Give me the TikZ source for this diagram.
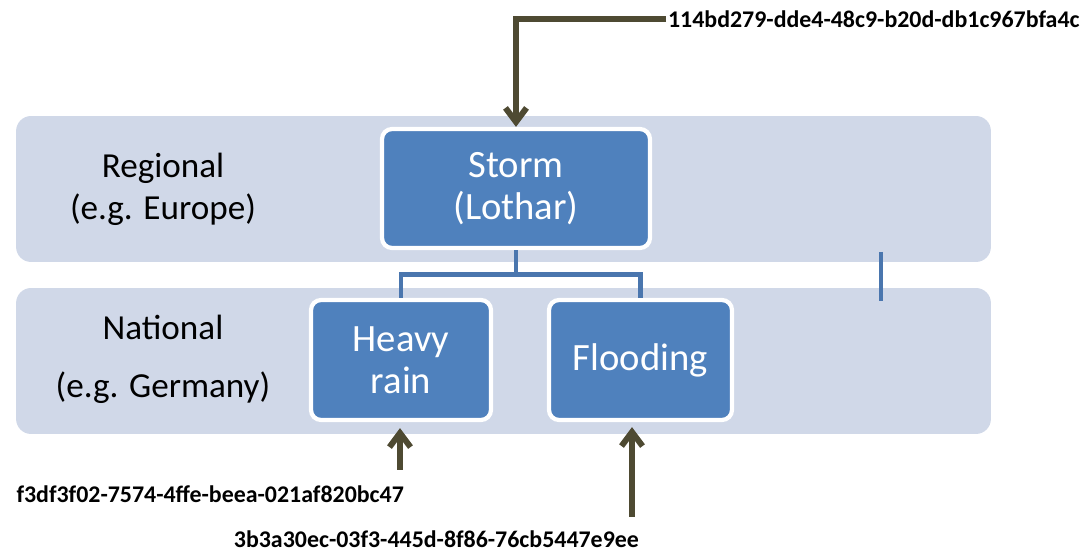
\documentclass[tikz,border=0pt]{standalone}
\usepackage{fontspec}
\setmainfont{Carlito}
\usetikzlibrary{arrows.meta}
\definecolor{bandfill}{HTML}{D0D8E8}
\definecolor{eventfill}{HTML}{4F81BD}
\definecolor{linkblue}{HTML}{4A76AE}
\definecolor{arrowolive}{HTML}{4E4A32}

\begin{document}
\begin{tikzpicture}[x=0.02cm,y=-0.02cm,
  every node/.style={font=\fontsize{20}{24}\selectfont},
  level/.style={fill=bandfill,rounded corners=0.3cm,minimum width=19.5cm,minimum height=2.92cm,inner sep=0pt},
  event/.style={fill=eventfill,draw=white,line width=2.4pt,rounded corners=0.2cm,text=white,align=center,font=\fontsize{22}{24}\selectfont},
  link/.style={draw=linkblue,line width=2.8pt},
  idarrow/.style={draw=arrowolive,line width=3.4pt,-{Straight Barb[length=0.28cm,width=0.42cm]}},
  uuid/.style={inner sep=1pt,font=\bfseries\fontsize{13.6}{16}\selectfont}]
\useasboundingbox (0,0) rectangle (1089,553);
% levels
\node[level] (regional) at (503.5,189) {};
\node[level] (national) at (503.5,361) {};
\node[align=center] (regtext) at (163,189) {Regional\\(e.g. Europe)};
\node[align=center] (nattext) at (163,359) {National\\[0.32cm](e.g. Germany)};
% events
\node[event,minimum width=5.36cm,minimum height=2.38cm] (storm) at (516,188.5) {Storm\\(Lothar)};
\node[event,minimum width=3.6cm,minimum height=2.4cm] (heavy) at (401,360) {Heavy\\rain};
\node[event,minimum width=3.66cm,minimum height=2.4cm] (flood) at (640.5,360) {Flooding};
% tree
\draw[link] (storm.south) -- ++(0,24) coordinate (split);
\draw[link] (heavy.north) |- (split) -| (flood.north);
\coordinate (stubtop) at (881,252);
\coordinate (stubfoot) at (881,301);
\draw[link] (stubtop) -- (stubfoot);
% identifiers
\node[uuid,anchor=west] (stormid) at (666,19) {114bd279-dde4-48c9-b20d-db1c967bfa4c};
\node[uuid,anchor=east] (rainid) at (406,494) {f3df3f02-7574-4ffe-beea-021af820bc47};
\node[uuid,anchor=east] (floodid) at (641,539) {3b3a30ec-03f3-445d-8f86-76cb5447e9ee};
\coordinate (rainfoot) at (400,470);
\coordinate (floodfoot) at (632,517);
\draw[idarrow] (stormid.west) -| (storm.north);
\draw[idarrow,shorten >=0.12cm] (rainfoot) -- (rainfoot |- heavy.south);
\draw[idarrow,shorten >=0.1cm] (floodfoot) -- (floodfoot |- flood.south);
\end{tikzpicture}
\end{document}
